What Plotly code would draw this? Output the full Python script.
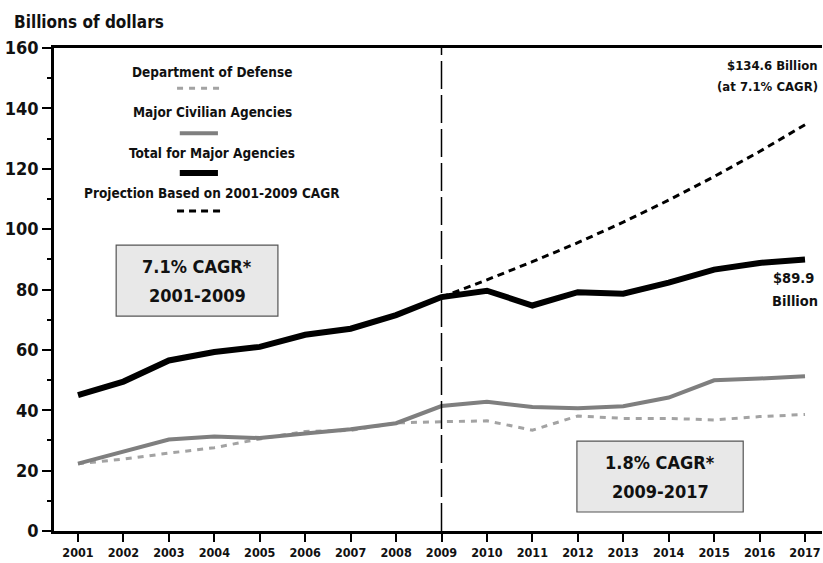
import plotly.graph_objects as go

years = list(range(2001, 2018))
total = [45.0, 49.5, 56.5, 59.3, 61.0, 65.0, 67.0, 71.5, 77.5,
         79.6, 74.7, 79.1, 78.6, 82.3, 86.6, 88.8, 89.9]
civilian = [22.3, 26.3, 30.3, 31.3, 30.8, 32.3, 33.7, 35.7, 41.4,
            42.8, 41.1, 40.7, 41.3, 44.2, 49.9, 50.5, 51.3]
defense = [22.3, 23.8, 25.8, 27.6, 30.5, 33.0, 33.3, 35.8, 36.2,
           36.5, 33.4, 38.1, 37.3, 37.3, 36.8, 37.9, 38.6]
proj_years = list(range(2009, 2018))
projection = [77.5, 83.2, 89.2, 95.5, 102.3, 109.6, 117.4, 125.7, 134.6]
split_year = 2009

FONT = "DejaVu Sans Condensed, Liberation Sans Narrow, Liberation Sans, Arial"
DOD_GRAY = "#a3a3a3"
CIV_GRAY = "#7f7f7f"

fig = go.Figure()

fig.add_trace(go.Scatter(x=years, y=defense, mode="lines",
                         line=dict(color=DOD_GRAY, width=3, dash="6px,6px")))
fig.add_trace(go.Scatter(x=years, y=civilian, mode="lines",
                         line=dict(color=CIV_GRAY, width=4)))
fig.add_trace(go.Scatter(x=proj_years, y=projection, mode="lines",
                         line=dict(color="black", width=3, dash="7px,5px")))
fig.add_trace(go.Scatter(x=years, y=total, mode="lines",
                         line=dict(color="black", width=6)))

# vertical divider
fig.add_shape(type="line", x0=split_year, x1=split_year, y0=0, y1=160,
              line=dict(color="black", width=1.5, dash="28px,6px"))

# hand-made legend (text above the line sample)
legend = [
    ("Department of Defense", 152.0, 146.7, DOD_GRAY, 3, "6px,6px", 2003.18, 2004.15),
    ("Major Civilian Agencies", 138.8, 131.8, CIV_GRAY, 4, "solid", 2003.24, 2004.08),
    ("Total for Major Agencies", 125.2, 118.6, "black", 6, "solid", 2003.24, 2004.08),
    ("Projection Based on 2001-2009 CAGR", 112.0, 106.0, "black", 3, "7px,5px", 2003.18, 2004.15),
]
for label, ty, ly, col, w, dash, lx0, lx1 in legend:
    fig.add_annotation(x=2003.95, y=ty, text="<b>" + label + "</b>", showarrow=False,
                       font=dict(family=FONT, size=13.5, color="#111"))
    fig.add_shape(type="line", x0=lx0, x1=lx1, y0=ly, y1=ly,
                  line=dict(color=col, width=w, dash=dash))

# CAGR boxes
boxes = [
    (2001.84, 2005.40, 71.2, 94.7, 2003.62, "7.1% CAGR*", "2001-2009"),
    (2011.98, 2015.64, 6.3, 29.8, 2013.81, "1.8% CAGR*", "2009-2017"),
]
for x0, x1, y0, y1, xc, l1, l2 in boxes:
    fig.add_shape(type="rect", x0=x0, x1=x1, y0=y0, y1=y1,
                  fillcolor="#e8e8e8", line=dict(color="#555", width=1.2), layer="below")
    fig.add_annotation(x=xc, y=y1 - 7.0, text="<b>" + l1 + "</b>", showarrow=False,
                       font=dict(family=FONT, size=18, color="#111"))
    fig.add_annotation(x=xc, y=y1 - 16.6, text="<b>" + l2 + "</b>", showarrow=False,
                       font=dict(family=FONT, size=18, color="#111"))

# end labels
fig.add_annotation(xref="paper", x=0.997, xanchor="right", y=154.3,
                   text="<b>$134.6 Billion</b>", showarrow=False,
                   font=dict(family=FONT, size=13, color="#111"))
fig.add_annotation(xref="paper", x=0.997, xanchor="right", y=147.3,
                   text="<b>(at 7.1% CAGR)</b>", showarrow=False,
                   font=dict(family=FONT, size=13, color="#111"))
fig.add_annotation(x=2016.75, y=83.8, text="<b>$89.9</b>", showarrow=False,
                   font=dict(family=FONT, size=14.5, color="#111"))
fig.add_annotation(x=2016.77, y=76.2, text="<b>Billion</b>", showarrow=False,
                   font=dict(family=FONT, size=14.5, color="#111"))

fig.add_annotation(xref="paper", yref="paper", x=-0.0547, y=1.054, xanchor="left",
                   yanchor="middle", text="<b>Billions of dollars</b>", showarrow=False,
                   font=dict(family=FONT, size=17, color="#111"))

fig.update_xaxes(range=[2000.472, 2017.374], tickmode="array", tickvals=years,
                 ticktext=["<b>%d</b>" % y for y in years],
                 showline=True, linecolor="black", linewidth=2.5, mirror=True,
                 ticks="outside", ticklen=8, tickwidth=1.5, tickcolor="black",
                 showgrid=False, zeroline=False,
                 tickfont=dict(family=FONT, size=12.5, color="#111"))
fig.update_yaxes(range=[0, 160], dtick=20, tickmode="linear",
                 tickprefix="<b>", ticksuffix="</b>",
                 showline=True, linecolor="black", linewidth=2.5,
                 ticks="outside", ticklen=9, tickwidth=1.5, tickcolor="black",
                 minor=dict(dtick=10, ticks="outside", ticklen=4, tickwidth=1.5,
                            tickcolor="black", showgrid=False),
                 showgrid=False, zeroline=False,
                 tickfont=dict(family=FONT, size=18, color="#111"))

fig.update_layout(width=823, height=563, showlegend=False,
                  margin=dict(l=54, r=1, t=48, b=32),
                  plot_bgcolor="white", paper_bgcolor="white")

fig.write_html("out.html", config={"displayModeBar": False},
               post_script="document.body.style.margin='0';")
